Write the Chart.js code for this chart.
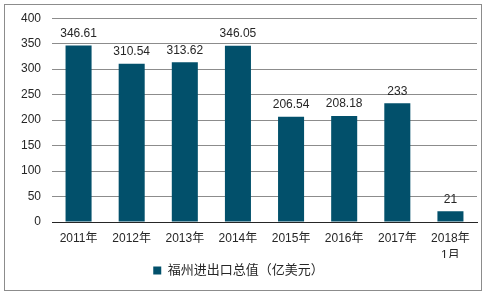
<!DOCTYPE html>
<html>
<head>
<meta charset="utf-8">
<script src="https://cdn.jsdelivr.net/npm/chart.js@4.4.1/dist/chart.umd.min.js"></script>
<style>
  body { margin: 0; background: #fff; }
  #wrap { position: relative; width: 487px; height: 295px; }
  #frame { position: absolute; left: 4px; top: 4px; width: 476px; height: 285px; border: 1px solid #8c8c8c; }
  canvas { position: absolute; left: 0; top: 0; }
</style>
</head>
<body>
<div id="wrap">
  <div id="frame"></div>
  <canvas id="myChart" width="487" height="295"></canvas>
</div>
<script>
var nianfen = ["2011年", "2012年", "2013年", "2014年", "2015年", "2016年", "2017年", ["2018年", "1月"]];
var zongzhi = [346.61, 310.54, 313.62, 346.05, 206.54, 208.18, 233, 21];
var zhiLabels = ["346.61", "310.54", "313.62", "346.05", "206.54", "208.18", "233", "21"];
var yTicks = [0, 50, 100, 150, 200, 250, 300, 350, 400];

var ziti = "'Liberation Sans', 'Noto Sans CJK SC', sans-serif";

// draw the value above each bar
var shuzhiPlugin = {
  id: "shuzhi",
  afterDatasetsDraw: function (chart) {
    var c = chart.ctx;
    var meta = chart.getDatasetMeta(0);
    c.save();
    c.font = "12px " + ziti;
    c.fillStyle = "#262626";
    c.textAlign = "center";
    c.textBaseline = "bottom";
    meta.data.forEach(function (bar, i) {
      c.fillText(zhiLabels[i], bar.x, bar.y - 6);
    });
    c.restore();
  }
};

var ctx = document.getElementById("myChart");
var myChart = new Chart(ctx, {
  type: "bar",
  data: {
    labels: nianfen,
    datasets: [
      {
        label: "福州进出口总值（亿美元）",
        data: zongzhi,
        backgroundColor: "#02506b",
        barPercentage: 0.49,
        categoryPercentage: 1
      }
    ]
  },
  options: {
    responsive: false,
    animation: false,
    layout: { padding: { top: 10, right: 10, left: 0, bottom: 8 } },
    plugins: {
      legend: {
        position: "bottom",
        labels: {
          boxWidth: 8,
          boxHeight: 8,
          color: "#262626",
          font: { size: 13, family: ziti },
          padding: 6
        }
      },
      tooltip: { enabled: false }
    },
    scales: {
      x: {
        grid: { display: false, drawTicks: false },
        border: { color: "#262626", width: 1 },
        ticks: {
          color: "#262626",
          font: { size: 12, family: ziti, lineHeight: 1.4 },
          padding: 8,
          maxRotation: 0,
          autoSkip: false
        },
        afterFit: function (s) { s.height = 36; }
      },
      y: {
        min: 0,
        max: 400,
        afterBuildTicks: function (s) {
          s.ticks = yTicks.map(function (v) { return { value: v }; });
        },
        grid: { color: "#8c8c8c", drawTicks: false },
        border: { display: false },
        ticks: {
          color: "#262626",
          font: { size: 12, family: ziti },
          padding: 11
        },
        afterFit: function (s) { s.width = 52; }
      }
    }
  },
  plugins: [shuzhiPlugin]
});
</script>
</body>
</html>
